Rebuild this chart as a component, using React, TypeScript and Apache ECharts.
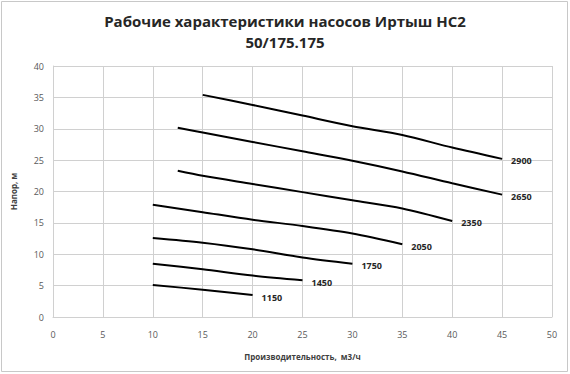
import React, { useEffect, useRef } from "react";
import * as echarts from "echarts";

const titleLines = ["Рабочие характеристики насосов Иртыш НС2", "50/175.175"];
const xAxisName = "Производительность,  м3/ч";
const yAxisName = "Напор, м";

const speeds = ["2900", "2650", "2350", "2050", "1750", "1450", "1150"];
const flow2900 = [15, 20, 25, 30, 35, 40, 45];
const head2900 = [35.4, 33.8, 32.1, 30.4, 29.0, 27.0, 25.2];
const flow2650 = [12.5, 15, 20, 25, 30, 35, 40, 45];
const head2650 = [30.15, 29.4, 27.9, 26.4, 24.9, 23.2, 21.3, 19.5];
const flow2350 = [12.5, 15, 20, 25, 30, 35, 40];
const head2350 = [23.3, 22.5, 21.2, 19.9, 18.6, 17.3, 15.3];
const flow2050 = [10, 15, 20, 25, 30, 35];
const head2050 = [17.9, 16.7, 15.5, 14.5, 13.3, 11.6];
const flow1750 = [10, 15, 20, 25, 30];
const head1750 = [12.6, 11.85, 10.8, 9.5, 8.5];
const flow1450 = [10, 15, 20, 25];
const head1450 = [8.5, 7.6, 6.6, 5.85];
const flow1150 = [10, 15, 20];
const head1150 = [5.1, 4.35, 3.5];

const flows = [flow2900, flow2650, flow2350, flow2050, flow1750, flow1450, flow1150];
const heads = [head2900, head2650, head2350, head2050, head1750, head1450, head1150];

const FONT = "'Open Sans', 'Noto Sans', sans-serif";

export default function App() {
  const ref = useRef<HTMLDivElement>(null);
  useEffect(() => {
    document.body.style.margin = "0";
    if (!ref.current) return;
    const chart = echarts.init(ref.current, undefined, { renderer: "svg" });
    chart.setOption({
      animation: false,
      backgroundColor: "#ffffff",
      textStyle: { fontFamily: FONT },
      title: {
        text: titleLines.join("\n"),
        left: "center",
        top: 5,
        textStyle: {
          fontFamily: FONT,
          fontSize: 15,
          fontWeight: "bold",
          color: "#262626",
          lineHeight: 21,
        },
      },
      graphic: [
        {
          type: "rect",
          shape: { x: 1.5, y: 1.5, width: 566, height: 370 },
          style: { fill: "none", stroke: "#c8c8c8", lineWidth: 1 },
          silent: true,
        },
      ],
      grid: { left: 53, right: 18, top: 66, bottom: 57, containLabel: false },
      xAxis: {
        type: "value",
        min: 0,
        max: 50,
        interval: 5,
        name: xAxisName,
        nameLocation: "middle",
        nameGap: 35,
        nameTextStyle: { fontFamily: FONT, fontSize: 8, fontWeight: "bold", color: "#404040" },
        axisLine: { show: true, lineStyle: { color: "#d0d0d0" } },
        axisTick: { show: false },
        axisLabel: { fontFamily: FONT, fontSize: 9, color: "#595959", margin: 13 },
        splitLine: { show: true, lineStyle: { color: "#d0d0d0", width: 1 } },
      },
      yAxis: {
        type: "value",
        min: 0,
        max: 40,
        interval: 5,
        name: yAxisName,
        nameLocation: "middle",
        nameGap: 36,
        nameTextStyle: { fontFamily: FONT, fontSize: 8, fontWeight: "bold", color: "#404040" },
        axisLine: { show: true, lineStyle: { color: "#d0d0d0" } },
        axisTick: { show: false },
        axisLabel: { fontFamily: FONT, fontSize: 9, color: "#595959", margin: 9 },
        splitLine: { show: true, lineStyle: { color: "#d0d0d0", width: 1 } },
      },
      series: speeds.map((name, i) => ({
        name,
        type: "line",
        data: flows[i].map((x, j) => [x, heads[i][j]]),
        smooth: 0.3,
        symbol: "none",
        lineStyle: { color: "#000000", width: 2 },
        endLabel: {
          show: true,
          formatter: "{a}",
          offset: [1, 2],
          fontFamily: FONT,
          fontSize: 9,
          fontWeight: "bold",
          color: "#262626",
        },
      })),
    });
    return () => chart.dispose();
  }, []);
  return <div ref={ref} style={{ width: 570, height: 374 }} />;
}
